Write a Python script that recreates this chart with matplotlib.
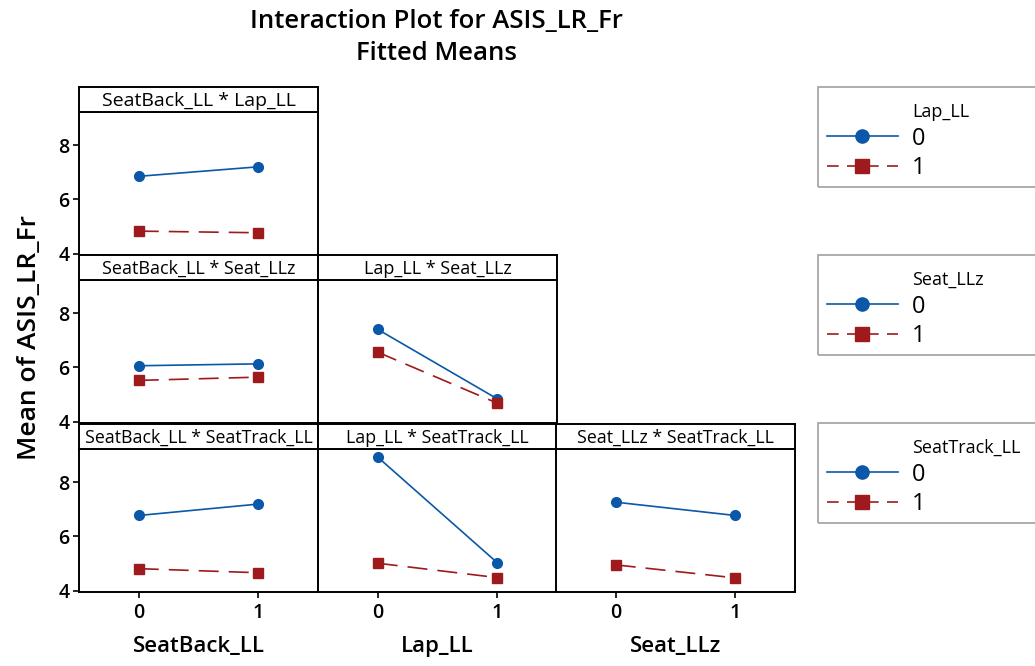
import matplotlib
matplotlib.use("Agg")
import matplotlib.pyplot as plt
from matplotlib.lines import Line2D
from matplotlib.patches import Rectangle

plt.rcParams["font.family"] = ["Open Sans", "DejaVu Sans"]

# factor levels on every x axis and for every trace
levels = [0, 1]

# fitted means, trace level 0 / trace level 1, read at x level 0 and 1
sb_lap_0 = [6.85, 7.20]
sb_lap_1 = [4.83, 4.77]
sb_llz_0 = [6.06, 6.13]
sb_llz_1 = [5.52, 5.64]
lap_llz_0 = [7.40, 4.84]
lap_llz_1 = [6.56, 4.68]
sb_trk_0 = [6.77, 7.19]
sb_trk_1 = [4.81, 4.66]
lap_trk_0 = [8.92, 5.03]
lap_trk_1 = [5.01, 4.48]
llz_trk_0 = [7.26, 6.77]
llz_trk_1 = [4.95, 4.47]

x_factors = ["SeatBack_LL", "Lap_LL", "Seat_LLz"]
trace_factors = ["Lap_LL", "Seat_LLz", "SeatTrack_LL"]

# (row, col) -> (trace 0, trace 1)
panels = {
    (0, 0): (sb_lap_0, sb_lap_1),
    (1, 0): (sb_llz_0, sb_llz_1),
    (1, 1): (lap_llz_0, lap_llz_1),
    (2, 0): (sb_trk_0, sb_trk_1),
    (2, 1): (lap_trk_0, lap_trk_1),
    (2, 2): (llz_trk_0, llz_trk_1),
}

BLUE = "#0B57A8"
RED = "#9E1A1D"

W, H = 1035, 666
fig = plt.figure(figsize=(W / 100, H / 100), dpi=100)

col_left = [79, 318, 556]
row_top = [87, 255, 424]
pw, strip_h, data_h = 239, 25, 143
strip_fs = [14, 13, 12.8]


def fx(px):
    return px / W


def fy(py):
    return 1 - py / H


for (r, c), (t0, t1) in panels.items():
    left, top = col_left[c], row_top[r]
    ax = fig.add_axes([fx(left), fy(top + strip_h + data_h), fx(pw), data_h / H])
    ax.plot(levels, t0, color=BLUE, lw=1.2, marker="o", ms=7, zorder=3)
    ax.plot(levels, t1, color=RED, lw=1.2, ls=(0, (12, 6)), marker="s", ms=7, zorder=3)
    ax.set_xlim(-0.5, 1.5)
    ax.set_ylim(3.95, 9.22)
    ax.set_yticks([4, 6, 8])
    ax.set_xticks(levels)
    for s in ax.spines.values():
        s.set_linewidth(1.4)
    ax.tick_params(length=4, width=1.2, labelsize=14, pad=3)
    if c == 0:
        ax.set_yticklabels(["4", "6", "8"], fontweight="semibold")
    else:
        ax.tick_params(axis="y", left=False, labelleft=False)
    if r == 2:
        ax.set_xticklabels(["0", "1"], fontweight="semibold")
        ax.tick_params(axis="x", pad=4)
        ax.set_xlabel(x_factors[c], fontsize=16, fontweight="semibold", labelpad=9)
    else:
        ax.tick_params(axis="x", bottom=False, labelbottom=False)

    # strip with the interaction name
    sax = fig.add_axes([fx(left), fy(top + strip_h), fx(pw), strip_h / H])
    sax.set_xticks([])
    sax.set_yticks([])
    for s in sax.spines.values():
        s.set_linewidth(1.4)
    sax.text(0.5, 0.45, f"{x_factors[c]} * {trace_factors[r]}", ha="center",
             va="center", fontsize=strip_fs[r], transform=sax.transAxes)

fig.text(0.422, fy(22), "Interaction Plot for ASIS_LR_Fr", ha="center", va="center",
         fontsize=18.5, fontweight="semibold")
fig.text(0.422, fy(54), "Fitted Means", ha="center", va="center",
         fontsize=18.5, fontweight="semibold")
fig.text(fx(30), fy(338), "Mean of ASIS_LR_Fr", rotation=90, ha="center", va="center",
         fontsize=19, fontweight="semibold")

# legend boxes, one per trace factor
box_top = [87, 255, 423]
for r, fac in enumerate(trace_factors):
    top = box_top[r]
    fig.patches.append(Rectangle((fx(818), fy(top + 100)), fx(240), 100 / H,
                                 transform=fig.transFigure, fill=False,
                                 edgecolor="#A0A0A0", lw=1.2))
    fig.text(fx(912), fy(top + 25), fac, ha="left", va="center", fontsize=13)
    handles = [
        Line2D([], [], color=BLUE, lw=1.2, marker="o", ms=9.5),
        Line2D([], [], color=RED, lw=1.2, ls=(0, (7, 5)), marker="s", ms=9.5),
    ]
    fig.legend(handles, ["0", "1"], loc="upper left",
               bbox_to_anchor=(fx(822), fy(top + 35)), frameon=False,
               handlelength=3.0, handletextpad=0.6, labelspacing=0.23,
               fontsize=17, borderpad=0.2, borderaxespad=0)

fig.savefig("out.png", dpi=100)
